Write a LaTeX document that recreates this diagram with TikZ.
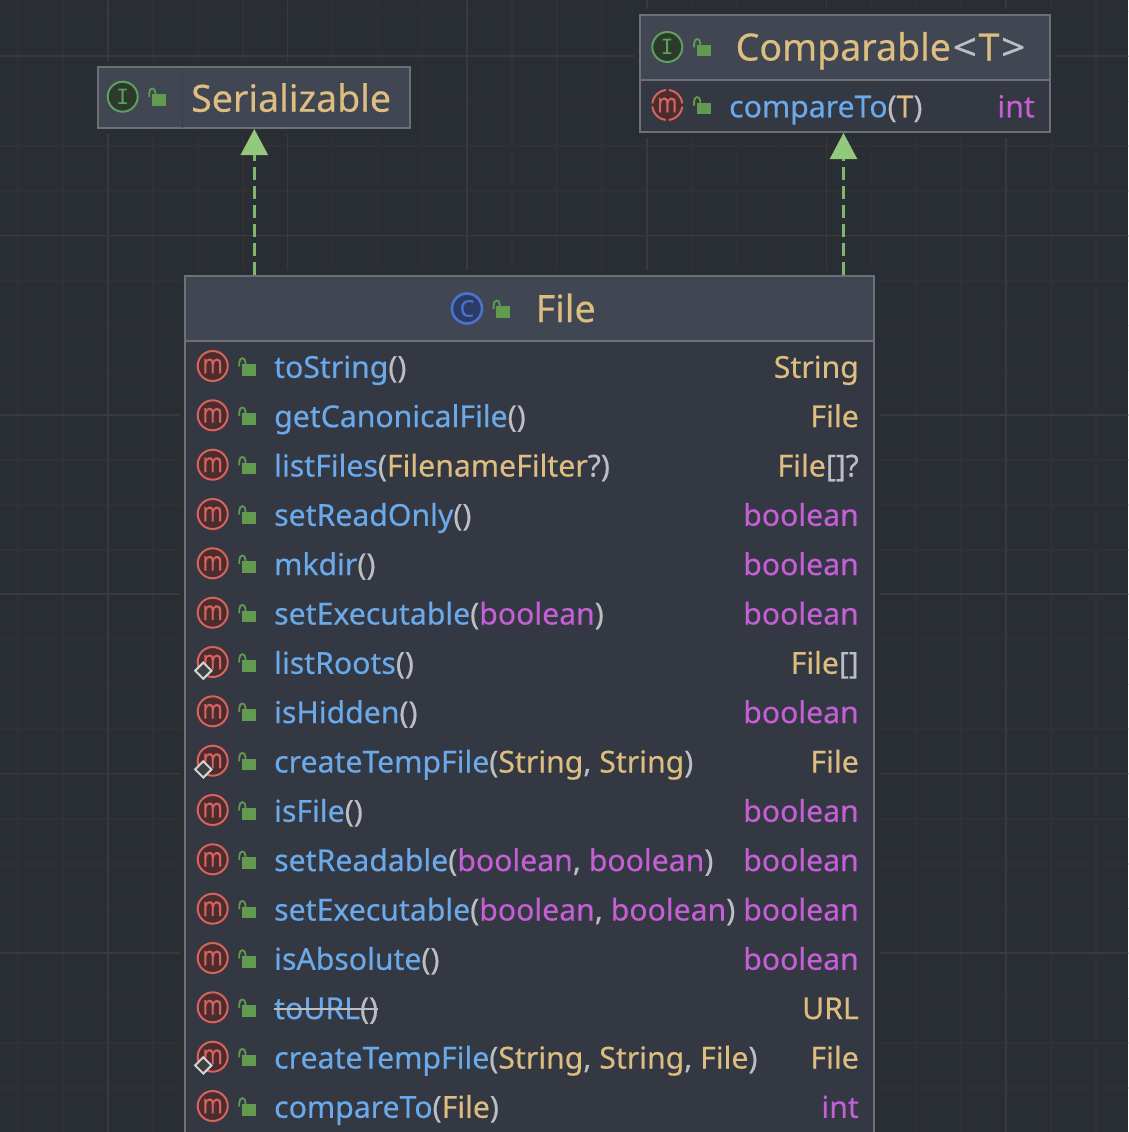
\documentclass[tikz,border=0pt]{standalone}
\usepackage{fontspec}
\setmainfont[RawFeature={embolden=0.35}]{Noto Sans}
\newfontfamily\iconmono{DejaVu Sans Mono}
\usetikzlibrary{arrows.meta}

\definecolor{canvasbg}{HTML}{292D34}
\definecolor{gridminor}{HTML}{333130}
\definecolor{gridmajor}{HTML}{3A3A38}
\definecolor{boxborder}{HTML}{6E7073}
\definecolor{headfill}{HTML}{414653}
\definecolor{bodyfill}{HTML}{343843}
\definecolor{softline}{HTML}{3A3F4A}
\definecolor{dashgreen}{HTML}{7FB56E}
\definecolor{tipgreen}{HTML}{92C97C}
\definecolor{lockgreen}{HTML}{629A50}
\definecolor{namecol}{HTML}{6AAAEA}
\definecolor{typecol}{HTML}{DEBE80}
\definecolor{kwcol}{HTML}{C55FD6}
\definecolor{puncol}{HTML}{BCBEC4}
\definecolor{mred}{HTML}{D9625C}
\definecolor{mfill}{HTML}{4A2D2E}
\definecolor{igreen}{HTML}{5F9E5F}
\definecolor{ifill}{HTML}{2C3A2C}
\definecolor{cblue}{HTML}{4A73D0}
\definecolor{cfill}{HTML}{2C3A66}
\definecolor{staticline}{HTML}{D4D4D4}
\definecolor{staticfill}{HTML}{3F4042}

\newcommand{\fn}[1]{\textcolor{namecol}{#1}}
\newcommand{\ty}[1]{\textcolor{typecol}{#1}}
\newcommand{\kw}[1]{\textcolor{kwcol}{#1}}
\newcommand{\pu}[1]{\textcolor{puncol}{#1}}
\newcommand{\mglyph}{\scalebox{.8}[1]{m}}

\tikzset{
  x=1pt, y=-1pt,
  umlhead/.style={draw=boxborder, line width=2pt, fill=headfill, inner sep=0pt, outer sep=1pt},
  umlbody/.style={draw=boxborder, line width=2pt, fill=bodyfill, inner sep=0pt, outer sep=1pt},
  icon/.style={circle, line width=2pt, minimum size=30pt, inner sep=0pt},
  micon/.style={icon, draw=mred, fill=mfill, text=mred, font=\fontsize{27}{27}\selectfont},
  mabstract/.style={micon, dash pattern=on 20.5pt off 3pt, dash phase=22pt},
  iicon/.style={icon, draw=igreen, fill=ifill, text=igreen, font=\iconmono\fontsize{21}{21}\selectfont},
  cicon/.style={icon, draw=cblue, fill=cfill, text=cblue, line width=2.6pt, font=\fontsize{23}{23}\selectfont},
  staticmark/.style={draw=staticline, fill=staticfill, line width=2pt, rotate=45, minimum size=11.5pt, inner sep=0pt},
  title/.style={anchor=base west, inner sep=0pt, text=typecol, font=\fontsize{37.5}{40}\selectfont},
  mtext/.style={anchor=base west, inner sep=0pt, font=\fontsize{30.2}{34}\selectfont},
  rtext/.style={anchor=base east, inner sep=0pt, font=\fontsize{30.2}{34}\selectfont},
  implements/.style={draw=dashgreen, line width=2.4pt, dash pattern=on 13pt off 6pt,
    -{Triangle[length=26pt,width=27pt,color=tipgreen]}},
  pics/lockicon/.style={code={
    \fill[lockgreen] (-6.8,-5.8) rectangle (6.8,5.8);
    \draw[lockgreen, line width=1.8pt] (-9.6,-3) -- (-9.6,-7) .. controls (-9.6,-13) and (-3.4,-13) .. (-3.4,-7) -- (-3.4,-5);
  }}
}

\begin{document}
\begin{tikzpicture}

\useasboundingbox (0,0) rectangle (1128,1132);
\fill[canvasbg] (0,0) rectangle (1128,1132);

% background grid
\begin{scope}
\clip (0,0) rectangle (1128,1132);
\draw[gridminor, line width=1.6pt, shift={(18.2,11.6)}, xstep=44.9pt, ystep=44.85pt] (-44.9,-44.85) grid (1130,1140);
\draw[gridmajor, line width=1.6pt, shift={(108,56)}, xstep=179.6pt, ystep=179.4pt] (-179.6,-179.4) grid (1040,1100);
\end{scope}

% clear margin round the boxes
\fill[canvasbg] (92,61) rectangle (417,134);
\fill[canvasbg] (634,9) rectangle (1056,138);
\fill[canvasbg] (180,270) rectangle (880,1132);

% interfaces
\node[umlhead, minimum width=312pt, minimum height=61pt] (serializable) at (254.3,97.5) {};
\draw[softline, line width=1pt] (182,68) -- (182,128);
\node[iicon] (serializableIcon) at (122.7,96.7) {I};
\pic at ([shift={(36.1,3.3)}]serializableIcon) {lockicon};
\node[title] (serializableName) at (191,111.7) {Serializable};

\node[umlbody, minimum width=410pt, minimum height=117pt] (comparable) at (845,73.5) {};
\node[umlhead, minimum width=410pt, minimum height=65pt] (comparableHead) at (845,47.5) {};
\node[iicon] (comparableIcon) at (667.3,47) {I};
\pic at ([shift={(36.4,3.5)}]comparableIcon) {lockicon};
\node[title] (comparableName) at (735.5,60.5) {Comparable\kern1.5pt\pu{\scalebox{1.15}[1]{<}}\kern1.5pt T\kern1.5pt\pu{\scalebox{1.15}[1]{>}}};
\node[mabstract] (compareIcon) at (667.3,105) {\mglyph};
\pic at ([shift={(36.4,3.5)}]compareIcon) {lockicon};
\node[mtext] (compareName) at (729,117.3) {\fn{compareTo}\pu{(}\ty{T}\pu{)}};
\node[rtext] (compareType) at (1035,117.3) {\kw{int}};

% class box
\node[umlbody, minimum width=689pt, minimum height=880pt, anchor=north] (file) at (529.8,274.5) {};
\node[umlhead, minimum width=689pt, minimum height=65pt, anchor=north] (fileHead) at (529.8,274.5) {};
\node[cicon] (fileIcon) at (467,308.5) {C};
\pic at ([shift={(36.2,3.5)}]fileIcon) {lockicon};
\node[title] (fileName) at (535.5,322) {File};

% methods
\node[micon] (m1) at (212.7,366) {\mglyph};
\pic at ([shift={(36.2,3.7)}]m1) {lockicon};
\node[mtext] (toString) at (274,377.8) {\fn{toString}\pu{()}};
\node[rtext] (toStringType) at (859,377.8) {\ty{String}};

\node[micon] (m2) at (212.7,415.3) {\mglyph};
\pic at ([shift={(36.2,3.7)}]m2) {lockicon};
\node[mtext] (canonical) at (274,427.1) {\fn{getCanonicalFile}\pu{()}};
\node[rtext] (canonicalType) at (859,427.1) {\ty{File}};

\node[micon] (m3) at (212.7,464.7) {\mglyph};
\pic at ([shift={(36.2,3.7)}]m3) {lockicon};
\node[mtext] (listFiles) at (274,476.5) {\fn{listFiles}\pu{(}\ty{FilenameFilter}\pu{?)}};
\node[rtext] (listFilesType) at (859,476.5) {\ty{File}\pu{[]?}};

\node[micon] (m4) at (212.7,514) {\mglyph};
\pic at ([shift={(36.2,3.7)}]m4) {lockicon};
\node[mtext] (readOnly) at (274,525.8) {\fn{setReadOnly}\pu{()}};
\node[rtext] (readOnlyType) at (859,525.8) {\kw{boolean}};

\node[micon] (m5) at (212.7,563.3) {\mglyph};
\pic at ([shift={(36.2,3.7)}]m5) {lockicon};
\node[mtext] (mkdir) at (274,575.1) {\fn{mkdir}\pu{()}};
\node[rtext] (mkdirType) at (859,575.1) {\kw{boolean}};

\node[micon] (m6) at (212.7,612.7) {\mglyph};
\pic at ([shift={(36.2,3.7)}]m6) {lockicon};
\node[mtext] (executableOne) at (274,624.5) {\fn{setExecutable}\pu{(}\kw{boolean}\pu{)}};
\node[rtext] (executableOneType) at (859,624.5) {\kw{boolean}};

\node[micon] (m7) at (212.7,662) {\mglyph};
\node[staticmark] (s7) at ([shift={(-9.4,8.7)}]m7) {};
\pic at ([shift={(36.2,3.7)}]m7) {lockicon};
\node[mtext] (listRoots) at (274,673.8) {\fn{listRoots}\pu{()}};
\node[rtext] (listRootsType) at (859,673.8) {\ty{File}\pu{[]}};

\node[micon] (m8) at (212.7,711.3) {\mglyph};
\pic at ([shift={(36.2,3.7)}]m8) {lockicon};
\node[mtext] (isHidden) at (274,723.1) {\fn{isHidden}\pu{()}};
\node[rtext] (isHiddenType) at (859,723.1) {\kw{boolean}};

\node[micon] (m9) at (212.7,760.7) {\mglyph};
\node[staticmark] (s9) at ([shift={(-9.4,8.7)}]m9) {};
\pic at ([shift={(36.2,3.7)}]m9) {lockicon};
\node[mtext] (tempTwo) at (274,772.5) {\fn{createTempFile}\pu{(}\ty{String}\pu{,} \ty{String}\pu{)}};
\node[rtext] (tempTwoType) at (859,772.5) {\ty{File}};

\node[micon] (m10) at (212.7,810) {\mglyph};
\pic at ([shift={(36.2,3.7)}]m10) {lockicon};
\node[mtext] (isFile) at (274,821.8) {\fn{isFile}\pu{()}};
\node[rtext] (isFileType) at (859,821.8) {\kw{boolean}};

\node[micon] (m11) at (212.7,859.3) {\mglyph};
\pic at ([shift={(36.2,3.7)}]m11) {lockicon};
\node[mtext] (readable) at (274,871.1) {\fn{setReadable}\pu{(}\kw{boolean}\pu{,} \kw{boolean}\pu{)}};
\node[rtext] (readableType) at (859,871.1) {\kw{boolean}};

\node[micon] (m12) at (212.7,908.7) {\mglyph};
\pic at ([shift={(36.2,3.7)}]m12) {lockicon};
\node[mtext] (executableTwo) at (274,920.5) {\fn{setExecutable}\pu{(}\kw{boolean}\pu{,} \kw{boolean}\pu{)}};
\node[rtext] (executableTwoType) at (859,920.5) {\kw{boolean}};

\node[micon] (m13) at (212.7,958) {\mglyph};
\pic at ([shift={(36.2,3.7)}]m13) {lockicon};
\node[mtext] (isAbsolute) at (274,969.8) {\fn{isAbsolute}\pu{()}};
\node[rtext] (isAbsoluteType) at (859,969.8) {\kw{boolean}};

\node[micon] (m14) at (212.7,1007.3) {\mglyph};
\pic at ([shift={(36.2,3.7)}]m14) {lockicon};
\node[mtext] (toUrl) at (274,1019.1) {\fn{toURL}\pu{()}};
\node[rtext] (toUrlType) at (859,1019.1) {\ty{URL}};
\draw[puncol, line width=1.5pt] ([yshift=10]toUrl.base west) -- ([yshift=10]toUrl.base east);

\node[micon] (m15) at (212.7,1056.7) {\mglyph};
\node[staticmark] (s15) at ([shift={(-9.4,8.7)}]m15) {};
\pic at ([shift={(36.2,3.7)}]m15) {lockicon};
\node[mtext] (tempThree) at (274,1068.5) {\fn{createTempFile}\pu{(}\ty{String}\pu{,} \ty{String}\pu{,} \ty{File}\pu{)}};
\node[rtext] (tempThreeType) at (859,1068.5) {\ty{File}};

\node[micon] (m16) at (212.7,1106) {\mglyph};
\pic at ([shift={(36.2,3.7)}]m16) {lockicon};
\node[mtext] (compareFile) at (274,1117.8) {\fn{compareTo}\pu{(}\ty{File}\pu{)}};
\node[rtext] (compareFileType) at (859,1117.8) {\kw{int}};

% implements
\draw[implements] (serializable.south |- fileHead.north) -- (serializable.south);
\draw[implements] ([xshift=-1.5]comparable.south |- fileHead.north) -- ([xshift=-1.5]comparable.south);

\end{tikzpicture}
\end{document}
